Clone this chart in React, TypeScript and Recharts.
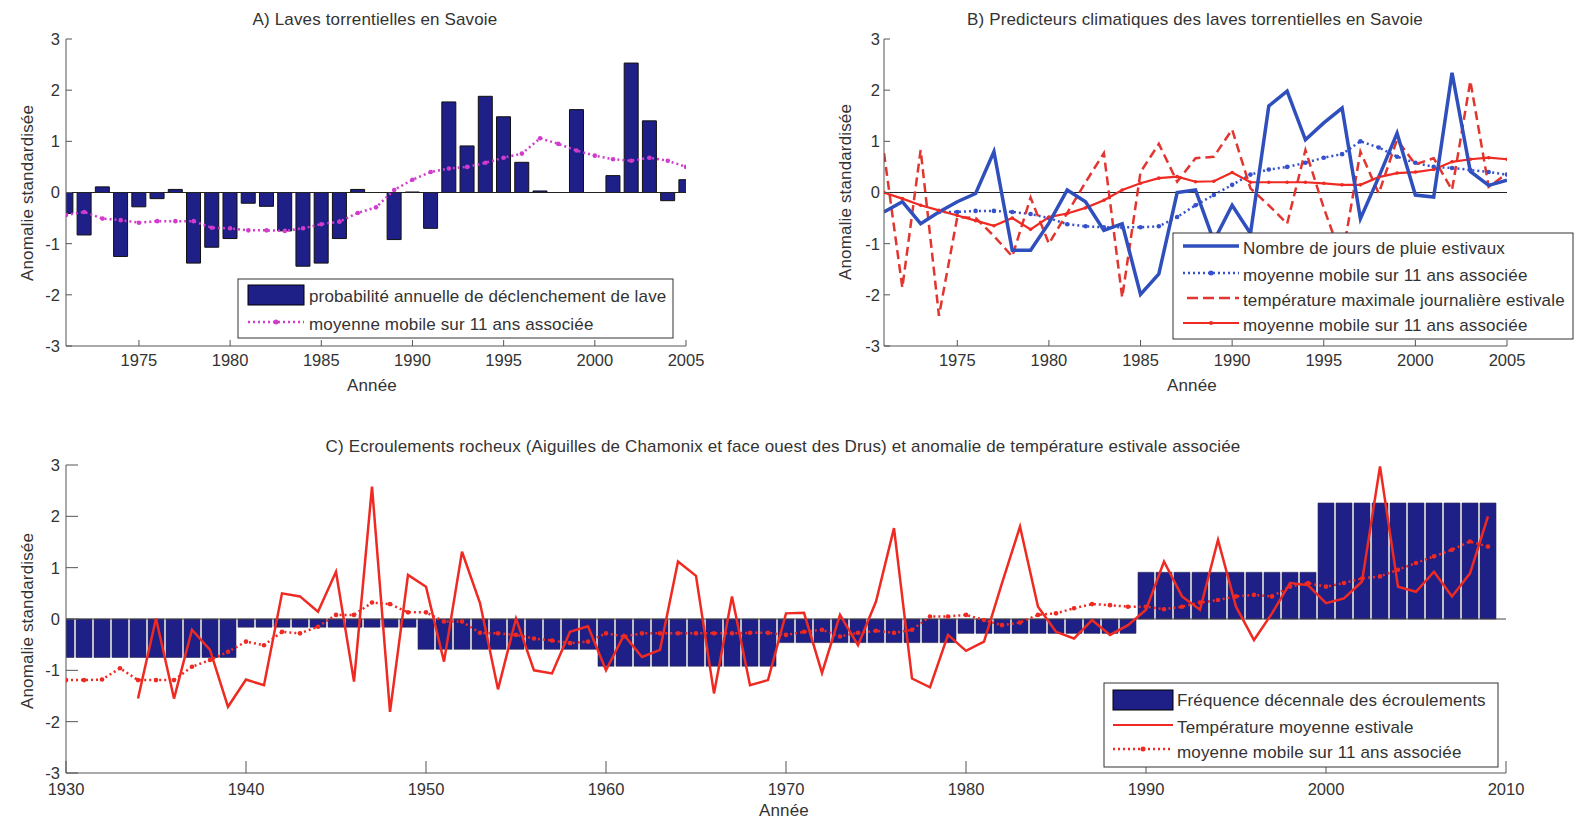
import React from 'react';
import { ComposedChart, Bar, Line, XAxis, YAxis, ReferenceLine } from 'recharts';

// ---------------- Panel A : Laves torrentielles en Savoie ----------------
const yearsA = [1971, 1972, 1973, 1974, 1975, 1976, 1977, 1978, 1979, 1980, 1981, 1982, 1983, 1984, 1985, 1986, 1987, 1988, 1989, 1990, 1991, 1992, 1993, 1994, 1995, 1996, 1997, 1998, 1999, 2000, 2001, 2002, 2003, 2004, 2005];
const debrisFlowProb = [
  -0.41, -0.83, 0.11, -1.25, -0.28, -0.12, 0.06, -1.38, -1.07, -0.9,
  -0.21, -0.27, -0.75, -1.44, -1.38, -0.9, 0.06, 0.0, -0.92, 0.01,
  -0.7, 1.77, 0.91, 1.88, 1.48, 0.59, 0.03, 0.0, 1.62, 0.0,
  0.33, 2.53, 1.4, -0.16, 0.25,
];
const debrisFlowMA = [
  -0.44, -0.38, -0.51, -0.54, -0.59, -0.56, -0.56, -0.56, -0.69, -0.7,
  -0.74, -0.74, -0.75, -0.7, -0.62, -0.57, -0.4, -0.29, 0.05, 0.25,
  0.4, 0.47, 0.5, 0.58, 0.68, 0.76, 1.06, 0.95, 0.82, 0.72,
  0.65, 0.62, 0.68, 0.62, 0.5,
];

// ---------------- Panel B : Prédicteurs climatiques ----------------
const yearsB = [1971, 1972, 1973, 1974, 1975, 1976, 1977, 1978, 1979, 1980, 1981, 1982, 1983, 1984, 1985, 1986, 1987, 1988, 1989, 1990, 1991, 1992, 1993, 1994, 1995, 1996, 1997, 1998, 1999, 2000, 2001, 2002, 2003, 2004, 2005];
const rainyDays = [
  -0.38, -0.18, -0.61, -0.38, -0.18, -0.02, 0.8, -1.13, -1.13, -0.6,
  0.05, -0.18, -0.74, -0.61, -1.99, -1.59, 0.0, 0.05, -0.95, -0.25,
  -0.8, 1.69, 1.98, 1.03, 1.36, 1.65, -0.51, 0.3, 1.16, -0.05,
  -0.09, 2.34, 0.41, 0.14, 0.24,
];
const rainyDaysMA = [
  null, null, null, -0.38, -0.38, -0.36, -0.36, -0.38, -0.42, -0.5,
  -0.62, -0.66, -0.68, -0.68, -0.68, -0.66, -0.48, -0.25, -0.05, 0.15,
  0.35, 0.45, 0.5, 0.58, 0.68, 0.75, 1.0, 0.88, 0.7, 0.58,
  0.5, 0.48, 0.44, 0.4, 0.35,
];
const tmaxSummer = [
  0.77, -1.86, 0.83, -2.41, -0.48, -0.5, -0.85, -1.25, -0.1, -1.0,
  -0.4, 0.2, 0.77, -2.05, 0.4, 0.95, 0.21, 0.67, 0.7, 1.23,
  0.08, -0.25, -0.61, 0.83, -0.3, -1.3, 0.8, -0.02, 1.03, 0.55,
  0.67, 0.05, 2.18, 0.11, 0.37,
];
const tmaxMA = [
  0.0, -0.12, -0.25, -0.35, -0.45, -0.55, -0.65, -0.5, -0.72, -0.48,
  -0.41, -0.3, -0.15, 0.05, 0.18, 0.28, 0.31, 0.21, 0.22, 0.39,
  0.2, 0.2, 0.2, 0.2, 0.18, 0.15, 0.15, 0.3, 0.38, 0.4,
  0.45, 0.6, 0.65, 0.68, 0.65,
];

// ---------------- Panel C : Ecroulements rocheux ----------------
const decadeStarts = [1930, 1940, 1950, 1960, 1970, 1980, 1990, 2000];
const rockfallDecadal = [-0.75, -0.16, -0.59, -0.92, -0.46, -0.28, 0.91, 2.26];
const yearsC = [
  1930, 1931, 1932, 1933, 1934, 1935, 1936, 1937, 1938, 1939,
  1940, 1941, 1942, 1943, 1944, 1945, 1946, 1947, 1948, 1949,
  1950, 1951, 1952, 1953, 1954, 1955, 1956, 1957, 1958, 1959,
  1960, 1961, 1962, 1963, 1964, 1965, 1966, 1967, 1968, 1969,
  1970, 1971, 1972, 1973, 1974, 1975, 1976, 1977, 1978, 1979,
  1980, 1981, 1982, 1983, 1984, 1985, 1986, 1987, 1988, 1989,
  1990, 1991, 1992, 1993, 1994, 1995, 1996, 1997, 1998, 1999,
  2000, 2001, 2002, 2003, 2004, 2005, 2006, 2007, 2008, 2009,
];
const summerTemp = [
  null, null, null, null, -1.55, 0.01, -1.55, -0.21, -0.6, -1.71,
  -1.18, -1.29, 0.5, 0.44, 0.14, 0.92, -1.22, 2.58, -1.81, 0.86,
  0.63, -0.83, 1.31, 0.31, -1.37, 0.01, -1.0, -1.06, -0.25, -0.14,
  -1.0, -0.31, -0.74, -0.6, 1.12, 0.84, -1.45, 0.44, -1.29, -1.19,
  0.11, 0.12, -1.05, 0.08, -0.51, 0.34, 1.77, -1.16, -1.33, -0.31,
  -0.62, -0.44, 0.7, 1.8, 0.24, -0.25, -0.38, -0.02, -0.31, -0.12,
  0.18, 1.12, 0.44, 0.18, 1.54, 0.24, -0.41, 0.11, 0.7, 0.66,
  0.31, 0.4, 0.73, 2.97, 0.63, 0.53, 0.92, 0.44, 0.89, 2.0,
];
const summerTempMA = [
  -1.19, -1.19, -1.18, -0.96, -1.19, -1.19, -1.19, -0.93, -0.8, -0.64,
  -0.44, -0.51, -0.25, -0.28, -0.15, 0.08, 0.08, 0.32, 0.29, 0.13,
  0.13, -0.05, -0.05, -0.27, -0.28, -0.31, -0.38, -0.42, -0.47, -0.44,
  -0.28, -0.34, -0.28, -0.28, -0.28, -0.28, -0.28, -0.28, -0.27, -0.27,
  -0.31, -0.25, -0.21, -0.34, -0.27, -0.23, -0.27, -0.21, 0.05, 0.05,
  0.08, -0.02, -0.12, -0.07, 0.08, 0.11, 0.21, 0.29, 0.27, 0.24,
  0.24, 0.19, 0.24, 0.32, 0.37, 0.44, 0.47, 0.44, 0.63, 0.7,
  0.63, 0.7, 0.79, 0.83, 0.96, 1.09, 1.22, 1.35, 1.51, 1.41,
];

// ---------------- Ticks ----------------
const yTicks = [-3, -2, -1, 0, 1, 2, 3];
const xTicksAB = [1975, 1980, 1985, 1990, 1995, 2000, 2005];
const xTicksC = [1930, 1940, 1950, 1960, 1970, 1980, 1990, 2000, 2010];

// ---------------- Tables ----------------
const dataA = yearsA.map((year, i) => ({ year, prob: debrisFlowProb[i], ma: debrisFlowMA[i] }));
const dataB = yearsB.map((year, i) => ({ year, rain: rainyDays[i], rainMA: rainyDaysMA[i], tmax: tmaxSummer[i], tmaxMA: tmaxMA[i] }));
const dataC = yearsC.map((year, i) => {
  const d = decadeStarts.findIndex((s) => year >= s && year < s + 10);
  return { year, freq: rockfallDecadal[d], temp: summerTemp[i], ma: summerTempMA[i] };
});

// ---------------- Styles ----------------
const FONT = '"Liberation Sans", Arial, Helvetica, sans-serif';
const FRAME = '#555';
const TXT = '#333';
const NAVY = '#1f1f88';
const MAGENTA = '#d03ccb';
const BLUE = '#2f4fbd';
const BLUE_MA = '#3552cc';
const RED_DASH = '#e3352f';
const RED = '#ee2a22';
const TICK_FS = 16.5;
const LABEL_FS = 17;

const bottomTick = (len: number, margin: number, base: number) => (p: any) => {
  const ay = p.y - margin;
  return (
    <g>
      <line x1={p.x} x2={p.x} y1={ay} y2={ay - len} stroke={FRAME} strokeWidth={1} />
      <text x={p.x} y={ay + base} textAnchor="middle" fontSize={TICK_FS} fill={TXT} fontFamily={FONT}>
        {p.payload.value}
      </text>
    </g>
  );
};
const topTick = (len: number) => (p: any) => (
  <line x1={p.x} x2={p.x} y1={p.y} y2={p.y + len} stroke={FRAME} strokeWidth={1} />
);
const leftTick = (len: number, margin: number) => (p: any) => {
  const ax = p.x + margin;
  return (
    <g>
      <line x1={ax} x2={ax + len} y1={p.y} y2={p.y} stroke={FRAME} strokeWidth={1} />
      <text x={p.x} y={p.y} dy="0.36em" textAnchor="end" fontSize={TICK_FS} fill={TXT} fontFamily={FONT}>
        {p.payload.value}
      </text>
    </g>
  );
};
const rightTick = (len: number) => (p: any) => (
  <line x1={p.x} x2={p.x - len} y1={p.y} y2={p.y} stroke={FRAME} strokeWidth={1} />
);

const dotR = (color: string, r: number) => (p: any) => {
  const k = `dot-${p.index}`;
  if (p.cx == null || p.cy == null || p.value == null) return <g key={k} />;
  return <circle key={k} cx={p.cx} cy={p.cy} r={r} fill={color} stroke="none" />;
};

const frameAxes = (domain: [number, number], xTicks: number[], len: number, clip: boolean) => [
  <XAxis key="xt" xAxisId="top" orientation="top" dataKey="year" type="number" domain={domain} ticks={xTicks} interval={0}
    height={0} tickSize={0} tickMargin={0} tickLine={false} tick={topTick(len)} axisLine={{ stroke: FRAME }} allowDataOverflow={clip} />,
  <YAxis key="yr" yAxisId="right" orientation="right" type="number" domain={[-3, 3]} ticks={yTicks} interval={0}
    width={0} tickSize={0} tickMargin={0} tickLine={false} tick={rightTick(len)} axisLine={{ stroke: FRAME }} allowDataOverflow />,
];

function PanelA() {
  return (
    <ComposedChart width={720} height={400} data={dataA} margin={{ top: 39, right: 34, left: 16, bottom: 14 }}>
      <XAxis dataKey="year" type="number" domain={[1971, 2005]} ticks={xTicksAB} interval={0} height={40}
        tickSize={0} tickMargin={2} tickLine={false} tick={bottomTick(6, 2, 20)} axisLine={{ stroke: FRAME }} allowDataOverflow />
      <YAxis type="number" domain={[-3, 3]} ticks={yTicks} interval={0} width={50} tickSize={0} tickMargin={6}
        tickLine={false} tick={leftTick(6, 6)} axisLine={{ stroke: FRAME }} allowDataOverflow />
      {frameAxes([1971, 2005], xTicksAB, 6, true)}
      <Bar dataKey="prob" barSize={14} fill={NAVY} stroke="#111" strokeWidth={1} isAnimationActive={false} />
      <ReferenceLine y={0} stroke="#222" strokeWidth={1} />
      <Line dataKey="ma" type="linear" stroke={MAGENTA} strokeWidth={2.5} strokeDasharray="2 3"
        dot={dotR(MAGENTA, 2.3)} activeDot={false} isAnimationActive={false} />
    </ComposedChart>
  );
}

function PanelB() {
  return (
    <ComposedChart width={740} height={400} data={dataB} margin={{ top: 39, right: 33, left: 34, bottom: 14 }}>
      <XAxis dataKey="year" type="number" domain={[1971, 2005]} ticks={xTicksAB} interval={0} height={40}
        tickSize={0} tickMargin={2} tickLine={false} tick={bottomTick(6, 2, 20)} axisLine={{ stroke: FRAME }} allowDataOverflow />
      <YAxis type="number" domain={[-3, 3]} ticks={yTicks} interval={0} width={50} tickSize={0} tickMargin={4}
        tickLine={false} tick={leftTick(6, 4)} axisLine={{ stroke: FRAME }} allowDataOverflow />
      {frameAxes([1971, 2005], xTicksAB, 6, false)}
      <ReferenceLine y={0} stroke="#222" strokeWidth={1} />
      <Line dataKey="rainMA" type="linear" stroke={BLUE_MA} strokeWidth={2.5} strokeDasharray="2 3"
        dot={dotR(BLUE_MA, 2.3)} activeDot={false} isAnimationActive={false} />
      <Line dataKey="tmax" type="linear" stroke={RED_DASH} strokeWidth={2.5} strokeDasharray="9 5"
        dot={false} activeDot={false} isAnimationActive={false} />
      <Line dataKey="tmaxMA" type="linear" stroke={RED} strokeWidth={2.2}
        dot={dotR(RED, 1.8)} activeDot={false} isAnimationActive={false} />
      <Line dataKey="rain" type="linear" stroke={BLUE} strokeWidth={3.5}
        dot={false} activeDot={false} isAnimationActive={false} />
    </ComposedChart>
  );
}

function PanelC() {
  return (
    <ComposedChart width={1540} height={400} data={dataC} margin={{ top: 45, right: 34, left: 16, bottom: 12 }}>
      <XAxis dataKey="year" type="number" domain={[1930, 2010]} ticks={xTicksC} interval={0} height={35}
        tickSize={0} tickMargin={2} tickLine={false} tick={bottomTick(12, 2, 22)} axisLine={{ stroke: FRAME }} allowDataOverflow />
      <YAxis type="number" domain={[-3, 3]} ticks={yTicks} interval={0} width={50} tickSize={0} tickMargin={6}
        tickLine={false} tick={leftTick(12, 6)} axisLine={{ stroke: FRAME }} allowDataOverflow />
      {frameAxes([1930, 2010], xTicksC, 12, true)}
      <Bar dataKey="freq" barSize={16} fill={NAVY} stroke="#2a2a50" strokeWidth={0.6} isAnimationActive={false} />
      <ReferenceLine y={0} stroke="#444" strokeWidth={1} />
      <Line dataKey="temp" type="linear" stroke={RED} strokeWidth={2.5}
        dot={false} activeDot={false} isAnimationActive={false} />
      <Line dataKey="ma" type="linear" stroke={RED} strokeWidth={2.5} strokeDasharray="2 3"
        dot={dotR(RED, 2.3)} activeDot={false} isAnimationActive={false} />
    </ComposedChart>
  );
}

const T = (props: any) => (
  <text fontFamily={FONT} fill={TXT} fontSize={LABEL_FS} letterSpacing={0.15} {...props} />
);

function Overlay() {
  return (
    <svg width={1576} height={821} style={{ position: 'absolute', left: 0, top: 0, pointerEvents: 'none' }}>
      {/* titles */}
      <T x={375} y={25} textAnchor="middle">A) Laves torrentielles en Savoie</T>
      <T x={1195} y={25} textAnchor="middle">B) Predicteurs climatiques des laves torrentielles en Savoie</T>
      <T x={783} y={452} textAnchor="middle">
        C) Ecroulements rocheux (Aiguilles de Chamonix et face ouest des Drus) et anomalie de température estivale associée
      </T>
      {/* axis labels */}
      <T x={33} y={193} textAnchor="middle" transform="rotate(-90 33 193)">Anomalie standardisée</T>
      <T x={851} y={192} textAnchor="middle" transform="rotate(-90 851 192)">Anomalie standardisée</T>
      <T x={33} y={621} textAnchor="middle" transform="rotate(-90 33 621)">Anomalie standardisée</T>
      <T x={372} y={391} textAnchor="middle">Année</T>
      <T x={1192} y={391} textAnchor="middle">Année</T>
      <T x={784} y={816} textAnchor="middle">Année</T>

      {/* legend A */}
      <rect x={238} y={279} width={435} height={59} fill="#fff" stroke="#333" strokeWidth={1} />
      <rect x={248} y={285} width={56} height={20} fill={NAVY} stroke="#000" strokeWidth={1} />
      <T x={309} y={302}>probabilité annuelle de déclenchement de lave</T>
      <line x1={248} x2={304} y1={322} y2={322} stroke={MAGENTA} strokeWidth={2.5} strokeDasharray="2 3" />
      <circle cx={276} cy={322} r={2.5} fill={MAGENTA} />
      <T x={309} y={330}>moyenne mobile sur 11 ans associée</T>

      {/* legend B */}
      <rect x={1173} y={233} width={400} height={106} fill="#fff" stroke="#333" strokeWidth={1} />
      <line x1={1183} x2={1239} y1={246} y2={246} stroke={BLUE} strokeWidth={3.5} />
      <T x={1243} y={254}>Nombre de jours de pluie estivaux</T>
      <line x1={1183} x2={1239} y1={273} y2={273} stroke={BLUE_MA} strokeWidth={2.5} strokeDasharray="2 3" />
      <circle cx={1211} cy={273} r={2.5} fill={BLUE_MA} />
      <T x={1243} y={281}>moyenne mobile sur 11 ans associée</T>
      <line x1={1187} x2={1239} y1={298} y2={298} stroke={RED_DASH} strokeWidth={2.5} strokeDasharray="11 5" />
      <T x={1243} y={306}>température maximale journalière estivale</T>
      <line x1={1183} x2={1239} y1={323} y2={323} stroke={RED} strokeWidth={2.2} />
      <circle cx={1211} cy={323} r={2} fill={RED} />
      <T x={1243} y={331}>moyenne mobile sur 11 ans associée</T>

      {/* legend C */}
      <rect x={1104} y={683} width={394} height={84} fill="#fff" stroke="#333" strokeWidth={1} />
      <rect x={1113} y={690} width={60} height={20} fill={NAVY} stroke="#000" strokeWidth={1} />
      <T x={1177} y={706}>Fréquence décennale des écroulements</T>
      <line x1={1113} x2={1173} y1={725} y2={725} stroke={RED} strokeWidth={2.2} />
      <T x={1177} y={733}>Température moyenne estivale</T>
      <line x1={1113} x2={1173} y1={749} y2={749} stroke={RED} strokeWidth={2.5} strokeDasharray="2 3" />
      <circle cx={1143} cy={749} r={2.5} fill={RED} />
      <T x={1177} y={758}>moyenne mobile sur 11 ans associée</T>
    </svg>
  );
}

export default function App() {
  return (
    <div style={{ position: 'absolute', left: 0, top: 0, width: 1576, height: 821, background: '#fff', fontFamily: FONT }}>
      <div style={{ position: 'absolute', left: 0, top: 0 }}>
        <PanelA />
      </div>
      <div style={{ position: 'absolute', left: 800, top: 0 }}>
        <PanelB />
      </div>
      <div style={{ position: 'absolute', left: 0, top: 420 }}>
        <PanelC />
      </div>
      <Overlay />
    </div>
  );
}
